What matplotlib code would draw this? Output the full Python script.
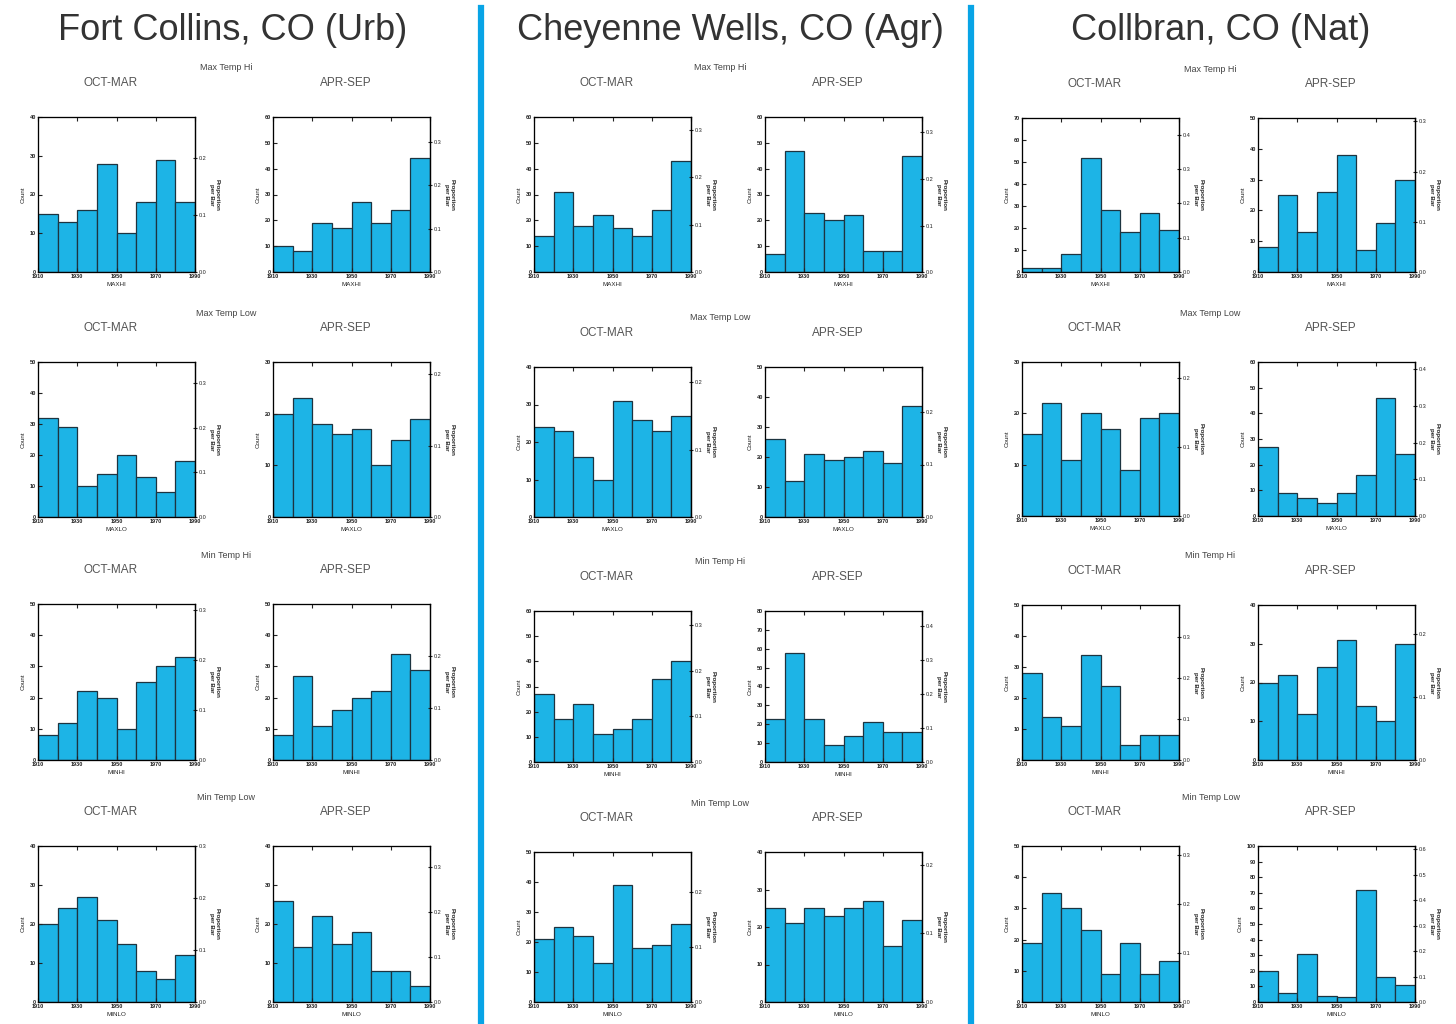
import matplotlib
matplotlib.use("Agg")
import matplotlib.pyplot as plt
from matplotlib.lines import Line2D
from matplotlib.ticker import MultipleLocator, FormatStrFormatter

plt.rcParams['font.family'] = ['Liberation Sans', 'DejaVu Sans']

stations = ["Fort Collins, CO (Urb)", "Cheyenne Wells, CO (Agr)", "Collbran, CO (Nat)"]
variables = ["Max Temp Hi", "Max Temp Low", "Min Temp Hi", "Min Temp Low"]
var_codes = ["MAXHI", "MAXLO", "MINHI", "MINLO"]
seasons = ["OCT-MAR", "APR-SEP"]
bin_edges = [1910, 1920, 1930, 1940, 1950, 1960, 1970, 1980, 1990]
year_ticks = [1910, 1930, 1950, 1970, 1990]

# counts per decade bin
fc_maxhi_oct = [15, 13, 16, 28, 10, 18, 29, 18]
fc_maxhi_apr = [10, 8, 19, 17, 27, 19, 24, 44]
fc_maxlo_oct = [32, 29, 10, 14, 20, 13, 8, 18]
fc_maxlo_apr = [20, 23, 18, 16, 17, 10, 15, 19]
fc_minhi_oct = [8, 12, 22, 20, 10, 25, 30, 33]
fc_minhi_apr = [8, 27, 11, 16, 20, 22, 34, 29]
fc_minlo_oct = [20, 24, 27, 21, 15, 8, 6, 12]
fc_minlo_apr = [26, 14, 22, 15, 18, 8, 8, 4]

cw_maxhi_oct = [14, 31, 18, 22, 17, 14, 24, 43]
cw_maxhi_apr = [7, 47, 23, 20, 22, 8, 8, 45]
cw_maxlo_oct = [24, 23, 16, 10, 31, 26, 23, 27]
cw_maxlo_apr = [26, 12, 21, 19, 20, 22, 18, 37]
cw_minhi_oct = [27, 17, 23, 11, 13, 17, 33, 40]
cw_minhi_apr = [23, 58, 23, 9, 14, 21, 16, 16]
cw_minlo_oct = [21, 25, 22, 13, 39, 18, 19, 26]
cw_minlo_apr = [25, 21, 25, 23, 25, 27, 15, 22]

co_maxhi_oct = [2, 2, 8, 52, 28, 18, 27, 19]
co_maxhi_apr = [8, 25, 13, 26, 38, 7, 16, 30]
co_maxlo_oct = [16, 22, 11, 20, 17, 9, 19, 20]
co_maxlo_apr = [27, 9, 7, 5, 9, 16, 46, 24]
co_minhi_oct = [28, 14, 11, 34, 24, 5, 8, 8]
co_minhi_apr = [20, 22, 12, 24, 31, 14, 10, 30]
co_minlo_oct = [19, 35, 30, 23, 9, 19, 9, 13]
co_minlo_apr = [20, 6, 31, 4, 3, 72, 16, 11]

# top of the count axis for each histogram
fc_count_max = [[40, 60], [50, 30], [50, 50], [40, 40]]
cw_count_max = [[60, 60], [40, 50], [60, 80], [50, 40]]
co_count_max = [[70, 50], [30, 60], [50, 40], [50, 100]]

panels = [
    (stations[0], [[fc_maxhi_oct, fc_maxhi_apr], [fc_maxlo_oct, fc_maxlo_apr],
                   [fc_minhi_oct, fc_minhi_apr], [fc_minlo_oct, fc_minlo_apr]], fc_count_max),
    (stations[1], [[cw_maxhi_oct, cw_maxhi_apr], [cw_maxlo_oct, cw_maxlo_apr],
                   [cw_minhi_oct, cw_minhi_apr], [cw_minlo_oct, cw_minlo_apr]], cw_count_max),
    (stations[2], [[co_maxhi_oct, co_maxhi_apr], [co_maxlo_oct, co_maxlo_apr],
                   [co_minhi_oct, co_minhi_apr], [co_minlo_oct, co_minlo_apr]], co_count_max),
]

W, H = 1456, 1024
BAR = '#1db4e6'
SEP = '#08a4e6'

# pixel layout: axes left edges, row tops/bottoms per station
col_left = [[38, 273], [534, 765], [1022, 1258]]
ax_w = 157
row_top = [[117, 362, 604, 846], [117, 367, 611, 852], [118, 362, 605, 846]]
row_bot = [[272, 517, 760, 1002], [272, 517, 762, 1002], [272, 516, 760, 1002]]
title_x = [233, 730, 1221]

fig = plt.figure(figsize=(W / 100, H / 100), dpi=100)
fig.patch.set_facecolor('white')


def px(x, y):
    return x / W, 1 - y / H


def histogram(ax, counts, ymax, code):
    ax.bar(bin_edges[:-1], counts, width=10, align='edge', color=BAR,
           edgecolor='#1d3440', linewidth=0.9)
    ax.set_xlim(bin_edges[0], bin_edges[-1])
    ax.set_ylim(0, ymax)
    ax.set_xticks(year_ticks)
    ax.yaxis.set_major_locator(MultipleLocator(10))
    ax.tick_params(axis='both', labelsize=4, length=3, width=0.8, pad=1.5,
                   direction='in', top=True, colors='#222222')
    ax.tick_params(axis='x', which='both', labelbottom=True)
    for s in ax.spines.values():
        s.set_linewidth(0.9)
        s.set_color('#333333')
    ax.set_ylabel("Count", fontsize=4.5, labelpad=3, color='#222222')
    ax.set_xlabel(code, fontsize=4.5, labelpad=2, color='#222222')
    for lab in ax.get_xticklabels() + ax.get_yticklabels():
        lab.set_fontweight('bold')

    ax2 = ax.twinx()
    ax2.set_ylim(0, ymax / sum(counts))
    ax2.yaxis.set_major_locator(MultipleLocator(0.1))
    ax2.yaxis.set_major_formatter(FormatStrFormatter('%.1f'))
    ax2.tick_params(labelsize=4, length=3, width=0.8, pad=1.5,
                    direction='inout', colors='#222222')
    ax2.spines['right'].set_linewidth(0.9)
    ax2.set_ylabel("Proportion\nper Bar", fontsize=4.5, rotation=270,
                   labelpad=9, color='#222222', fontweight='bold')


for p, (name, hists, ymaxes) in enumerate(panels):
    tx, ty = px(title_x[p], 30)
    fig.text(tx, ty, name, fontsize=26, color='#333333', ha='center', va='center')
    for r in range(4):
        top, bot = row_top[p][r], row_bot[p][r]
        for c in range(2):
            left = col_left[p][c]
            x0, y0 = px(left, bot)
            ax = fig.add_axes([x0, y0, ax_w / W, (bot - top) / H])
            histogram(ax, hists[r][c], ymaxes[r][c], var_codes[r])
            sx, sy = px(left + ax_w / 2 - 6, top - 34)
            fig.text(sx, sy, seasons[c], fontsize=8.5, color='#555555',
                     ha='center', va='center')
        mid = (col_left[p][0] + ax_w + col_left[p][1]) / 2 - 8
        vx, vy = px(mid, top - 49)
        fig.text(vx, vy, variables[r], fontsize=6.5, color='#444444',
                 ha='center', va='center')

# blue dividers between stations
for xs in [481, 971]:
    fig.add_artist(Line2D([xs / W, xs / W], [0, 1 - 8 / H], color=SEP,
                          linewidth=4.5, transform=fig.transFigure))

fig.savefig("out.png", dpi=100, facecolor='white')
